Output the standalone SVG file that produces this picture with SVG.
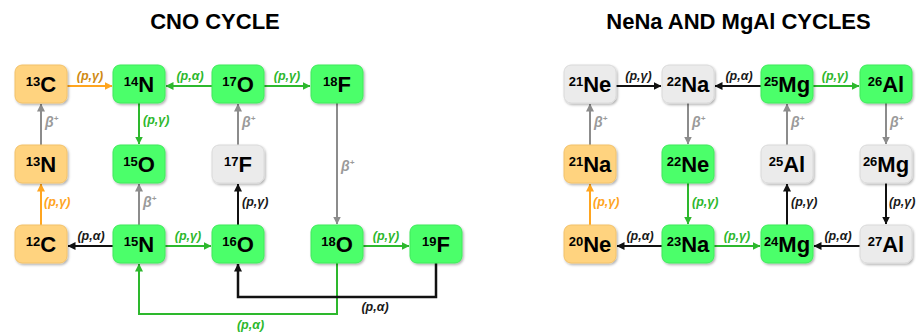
<svg xmlns="http://www.w3.org/2000/svg" width="916" height="334" viewBox="0 0 916 334">
<style>
.title{font-family:"Liberation Sans",Arial,sans-serif;font-weight:bold;font-size:22px;fill:#000;text-anchor:middle}
.node rect{stroke-width:1;filter:url(#sh)}
.orange rect{fill:#FFD37F;stroke:#F2C26A}
.green rect{fill:#4CFF6A;stroke:#3EEA5B}
.gray rect{fill:#EBEBEB;stroke:#DADADA}
.node text{font-family:"Liberation Sans",Arial,sans-serif;font-weight:bold;font-size:22px;fill:#000;text-anchor:middle}
.sup{font-size:13px}
.lbl{font-family:"Liberation Sans",Arial,sans-serif;font-weight:bold;font-style:italic;font-size:12.5px}
.beta{font-size:14px}
.m{text-anchor:middle}
.cO{fill:#FFA51F}.cOd{fill:#D08A12}.cG{fill:#2DB82D}.cK{fill:#1A1A1A}.cY{fill:#9A9A9A}
#connectors path{fill:none;stroke-width:2}
.lO{stroke:#FFA51F}.lG{stroke:#2DB82D}.lK{stroke:#111}.lY{stroke:#8C8C8C}
</style>
<defs>
<filter id="sh" x="-20%" y="-20%" width="140%" height="150%">
<feDropShadow dx="1.2" dy="1.5" stdDeviation="1" flood-color="#000" flood-opacity="0.3"/>
</filter>
<marker id="aO" viewBox="0 0 8 8" refX="7.5" refY="4" markerWidth="8" markerHeight="8" markerUnits="userSpaceOnUse" orient="auto"><path d="M0,0 L8,4 L0,8 z" fill="#FFA51F"/></marker>
<marker id="aG" viewBox="0 0 8 8" refX="7.5" refY="4" markerWidth="8" markerHeight="8" markerUnits="userSpaceOnUse" orient="auto"><path d="M0,0 L8,4 L0,8 z" fill="#2DB82D"/></marker>
<marker id="aK" viewBox="0 0 8 8" refX="7.5" refY="4" markerWidth="8" markerHeight="8" markerUnits="userSpaceOnUse" orient="auto"><path d="M0,0 L8,4 L0,8 z" fill="#111"/></marker>
<marker id="aY" viewBox="0 0 8 8" refX="7.5" refY="4" markerWidth="8" markerHeight="8" markerUnits="userSpaceOnUse" orient="auto"><path d="M0,0 L8,4 L0,8 z" fill="#8C8C8C"/></marker>
</defs>
<rect width="916" height="334" fill="#fff"/>
<text class="title" x="215" y="29">CNO CYCLE</text>
<text class="title" x="738.5" y="29">NeNa AND MgAl CYCLES</text>

<g id="connectors">
<path class="lO" d="M67,86 H112" marker-end="url(#aO)"/>
<path class="lG" d="M212,86 H166" marker-end="url(#aG)"/>
<path class="lG" d="M264,86 H310" marker-end="url(#aG)"/>
<path class="lG" d="M139,103 V144" marker-end="url(#aG)"/>
<path class="lY" d="M41,145 V104" marker-end="url(#aY)"/>
<path class="lY" d="M238,145 V104" marker-end="url(#aY)"/>
<path class="lY" d="M337,103 V224" marker-end="url(#aY)"/>
<path class="lO" d="M41,225 V184" marker-end="url(#aO)"/>
<path class="lY" d="M139,225 V184" marker-end="url(#aY)"/>
<path class="lK" d="M238,225 V184" marker-end="url(#aK)"/>
<path class="lK" d="M113,246 H68" marker-end="url(#aK)"/>
<path class="lG" d="M165,246 H211" marker-end="url(#aG)"/>
<path class="lG" d="M363,246 H409" marker-end="url(#aG)"/>
<path class="lG" d="M337,263 V314 H139 V264" marker-end="url(#aG)"/>
<path class="lK" d="M436,263 V297 H238 V264" marker-end="url(#aK)" style="stroke-width:2.5"/>

<path class="lK" d="M616,86 H661" marker-end="url(#aK)"/>
<path class="lK" d="M761,86 H715" marker-end="url(#aK)"/>
<path class="lG" d="M813,86 H859" marker-end="url(#aG)"/>
<path class="lY" d="M590,145 V104" marker-end="url(#aY)"/>
<path class="lY" d="M688,103 V144" marker-end="url(#aY)"/>
<path class="lY" d="M787,145 V104" marker-end="url(#aY)"/>
<path class="lY" d="M886,103 V144" marker-end="url(#aY)"/>
<path class="lO" d="M590,225 V184" marker-end="url(#aO)"/>
<path class="lG" d="M688,183 V224" marker-end="url(#aG)"/>
<path class="lK" d="M787,225 V184" marker-end="url(#aK)"/>
<path class="lK" d="M886,183 V224" marker-end="url(#aK)"/>
<path class="lK" d="M662,246 H617" marker-end="url(#aK)"/>
<path class="lG" d="M714,246 H760" marker-end="url(#aG)"/>
<path class="lK" d="M860,246 H814" marker-end="url(#aK)"/>

<text class="lbl m cOd" x="90" y="79.5">(p,γ)</text>
<text class="lbl m cG" x="190" y="79.5">(p,α)</text>
<text class="lbl m cG" x="287" y="79.5">(p,γ)</text>
<text class="lbl cG" x="143" y="123.5">(p,γ)</text>
<text class="lbl beta cY" x="45" y="127">β<tspan font-size="8" dy="-6">+</tspan></text>
<text class="lbl beta cY" x="242" y="127">β<tspan font-size="8" dy="-6">+</tspan></text>
<text class="lbl beta cY" x="341" y="171">β<tspan font-size="8" dy="-6">+</tspan></text>
<text class="lbl cO" x="44" y="205.5">(p,γ)</text>
<text class="lbl beta cY" x="143" y="207">β<tspan font-size="8" dy="-6">+</tspan></text>
<text class="lbl cK" x="242" y="205.5">(p,γ)</text>
<text class="lbl m cK" x="91" y="240">(p,α)</text>
<text class="lbl m cG" x="188" y="240">(p,γ)</text>
<text class="lbl m cG" x="386" y="240">(p,γ)</text>
<text class="lbl m cG" x="250.5" y="329">(p,α)</text>
<text class="lbl m cK" x="375" y="311">(p,α)</text>

<text class="lbl m cK" x="638.5" y="79.5">(p,γ)</text>
<text class="lbl m cK" x="739" y="79.5">(p,α)</text>
<text class="lbl m cG" x="835" y="79.5">(p,γ)</text>
<text class="lbl beta cY" x="594" y="127">β<tspan font-size="8" dy="-6">+</tspan></text>
<text class="lbl beta cY" x="692" y="127">β<tspan font-size="8" dy="-6">+</tspan></text>
<text class="lbl beta cY" x="791" y="127">β<tspan font-size="8" dy="-6">+</tspan></text>
<text class="lbl beta cY" x="890" y="127">β<tspan font-size="8" dy="-6">+</tspan></text>
<text class="lbl cO" x="593" y="205.5">(p,γ)</text>
<text class="lbl cG" x="692" y="205.5">(p,γ)</text>
<text class="lbl cK" x="791" y="205.5">(p,γ)</text>
<text class="lbl cK" x="889" y="205.5">(p,γ)</text>
<text class="lbl m cK" x="640" y="240">(p,α)</text>
<text class="lbl m cG" x="737" y="240">(p,γ)</text>
<text class="lbl m cK" x="838" y="240">(p,α)</text>
</g>

<g id="n-13C" class="node orange"><rect x="15" y="65" width="52" height="38" rx="7"/><text x="41" y="92"><tspan class="sup" dy="-6">13</tspan><tspan dy="6">C</tspan></text></g>
<g id="n-14N" class="node green"><rect x="113" y="65" width="52" height="38" rx="7"/><text x="139" y="92"><tspan class="sup" dy="-6">14</tspan><tspan dy="6">N</tspan></text></g>
<g id="n-17O" class="node green"><rect x="212" y="65" width="52" height="38" rx="7"/><text x="238" y="92"><tspan class="sup" dy="-6">17</tspan><tspan dy="6">O</tspan></text></g>
<g id="n-18F" class="node green"><rect x="311" y="65" width="52" height="38" rx="7"/><text x="337" y="92"><tspan class="sup" dy="-6">18</tspan><tspan dy="6">F</tspan></text></g>
<g id="n-13N" class="node orange"><rect x="15" y="145" width="52" height="38" rx="7"/><text x="41" y="172"><tspan class="sup" dy="-6">13</tspan><tspan dy="6">N</tspan></text></g>
<g id="n-15O" class="node green"><rect x="113" y="145" width="52" height="38" rx="7"/><text x="139" y="172"><tspan class="sup" dy="-6">15</tspan><tspan dy="6">O</tspan></text></g>
<g id="n-17F" class="node gray"><rect x="212" y="145" width="52" height="38" rx="7"/><text x="238" y="172"><tspan class="sup" dy="-6">17</tspan><tspan dy="6">F</tspan></text></g>
<g id="n-12C" class="node orange"><rect x="15" y="225" width="52" height="38" rx="7"/><text x="41" y="252"><tspan class="sup" dy="-6">12</tspan><tspan dy="6">C</tspan></text></g>
<g id="n-15N" class="node green"><rect x="113" y="225" width="52" height="38" rx="7"/><text x="139" y="252"><tspan class="sup" dy="-6">15</tspan><tspan dy="6">N</tspan></text></g>
<g id="n-16O" class="node green"><rect x="212" y="225" width="52" height="38" rx="7"/><text x="238" y="252"><tspan class="sup" dy="-6">16</tspan><tspan dy="6">O</tspan></text></g>
<g id="n-18O" class="node green"><rect x="311" y="225" width="52" height="38" rx="7"/><text x="337" y="252"><tspan class="sup" dy="-6">18</tspan><tspan dy="6">O</tspan></text></g>
<g id="n-19F" class="node green"><rect x="410" y="225" width="52" height="38" rx="7"/><text x="436" y="252"><tspan class="sup" dy="-6">19</tspan><tspan dy="6">F</tspan></text></g>

<g id="n-21Ne" class="node gray"><rect x="564" y="65" width="52" height="38" rx="7"/><text x="590" y="92"><tspan class="sup" dy="-6">21</tspan><tspan dy="6">Ne</tspan></text></g>
<g id="n-22Na" class="node gray"><rect x="662" y="65" width="52" height="38" rx="7"/><text x="688" y="92"><tspan class="sup" dy="-6">22</tspan><tspan dy="6">Na</tspan></text></g>
<g id="n-25Mg" class="node green"><rect x="761" y="65" width="52" height="38" rx="7"/><text x="787" y="92"><tspan class="sup" dy="-6">25</tspan><tspan dy="6">Mg</tspan></text></g>
<g id="n-26Al" class="node green"><rect x="860" y="65" width="52" height="38" rx="7"/><text x="886" y="92"><tspan class="sup" dy="-6">26</tspan><tspan dy="6">Al</tspan></text></g>
<g id="n-21Na" class="node orange"><rect x="564" y="145" width="52" height="38" rx="7"/><text x="590" y="172"><tspan class="sup" dy="-6">21</tspan><tspan dy="6">Na</tspan></text></g>
<g id="n-22Ne" class="node green"><rect x="662" y="145" width="52" height="38" rx="7"/><text x="688" y="172"><tspan class="sup" dy="-6">22</tspan><tspan dy="6">Ne</tspan></text></g>
<g id="n-25Al" class="node gray"><rect x="761" y="145" width="52" height="38" rx="7"/><text x="787" y="172"><tspan class="sup" dy="-6">25</tspan><tspan dy="6">Al</tspan></text></g>
<g id="n-26Mg" class="node gray"><rect x="860" y="145" width="52" height="38" rx="7"/><text x="886" y="172"><tspan class="sup" dy="-6">26</tspan><tspan dy="6">Mg</tspan></text></g>
<g id="n-20Ne" class="node orange"><rect x="564" y="225" width="52" height="38" rx="7"/><text x="590" y="252"><tspan class="sup" dy="-6">20</tspan><tspan dy="6">Ne</tspan></text></g>
<g id="n-23Na" class="node green"><rect x="662" y="225" width="52" height="38" rx="7"/><text x="688" y="252"><tspan class="sup" dy="-6">23</tspan><tspan dy="6">Na</tspan></text></g>
<g id="n-24Mg" class="node green"><rect x="761" y="225" width="52" height="38" rx="7"/><text x="787" y="252"><tspan class="sup" dy="-6">24</tspan><tspan dy="6">Mg</tspan></text></g>
<g id="n-27Al" class="node gray"><rect x="860" y="225" width="52" height="38" rx="7"/><text x="886" y="252"><tspan class="sup" dy="-6">27</tspan><tspan dy="6">Al</tspan></text></g>
</svg>
